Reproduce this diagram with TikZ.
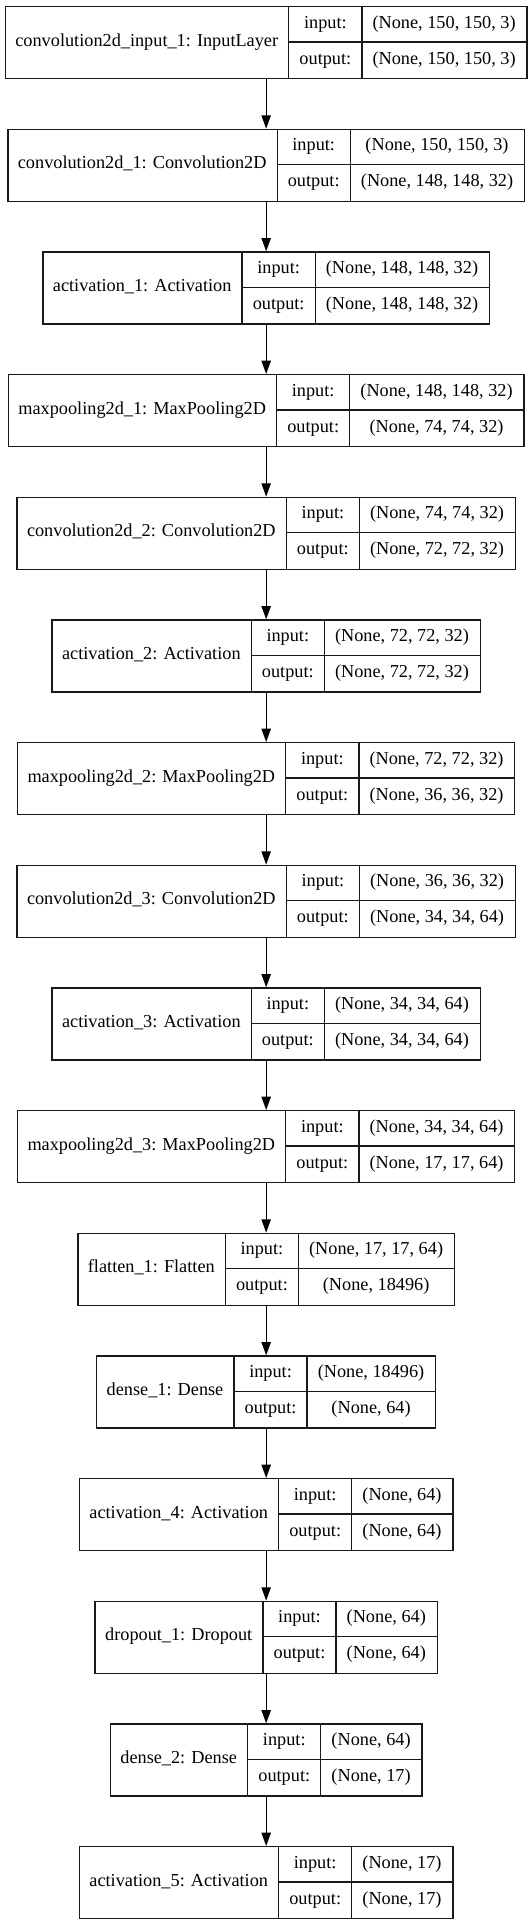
\documentclass[tikz,border=0pt]{standalone}
\usepackage{fontspec}
\setmainfont{Liberation Serif}
\usetikzlibrary{arrows.meta}
\newcommand\lf{\fontsize{13.7pt}{16pt}\selectfont}
\newlength\kwa
\newlength\kwb
\newlength\kwc
\newlength\kwd
\newcommand\kmeasure[2]{%
  \setbox0=\hbox{\pgfinterruptpicture\lf #2\endpgfinterruptpicture}%
  #1=\wd0\relax}
% #1 name, #2 index from 0, #3 label, #4 input shape, #5 output shape
\newcommand\klayer[5]{%
  \kmeasure{\kwa}{#3}%
  \kmeasure{\kwb}{output:}%
  \kmeasure{\kwc}{#4}%
  \kmeasure{\kwd}{#5}%
  \ifdim\kwd>\kwc \kwc=\kwd\fi
  \pgfmathsetmacro\kwl{\kwa+16}%
  \pgfmathsetmacro\kwm{\kwb+16}%
  \pgfmathsetmacro\kwr{\kwc+16}%
  \pgfmathsetmacro\ktot{\kwl+\kwm+\kwr}%
  \pgfmathsetmacro\kxl{199.125-\ktot/2}%
  \pgfmathsetmacro\kyt{-4.5-#2*92}%
  \pgfmathsetmacro\kxa{\kxl+\kwl}%
  \pgfmathsetmacro\kxb{\kxl+\kwl+\kwm}%
  \pgfmathsetmacro\kxe{\kxl+\ktot}%
  \pgfmathsetmacro\kym{\kyt-27}%
  \pgfmathsetmacro\kyb{\kyt-54}%
  \node[box, minimum width=\ktot pt, anchor=north west] (#1) at (\kxl pt,\kyt pt) {};
  \draw[sep] (\kxa pt,\kyt pt) -- (\kxa pt,\kyb pt);
  \draw[sep] (\kxb pt,\kyt pt) -- (\kxb pt,\kyb pt);
  \draw[sep] (\kxa pt,\kym pt) -- (\kxe pt,\kym pt);
  \node[txt] (#1-label) at (\kxl pt+\kwl pt/2,\kym pt) {#3};
  \node[txt] (#1-inkey) at (\kxa pt+\kwm pt/2,\kyt pt-13.5pt) {input:};
  \node[txt] (#1-outkey) at (\kxa pt+\kwm pt/2,\kyt pt-40.5pt) {output:};
  \node[txt] (#1-in) at (\kxb pt+\kwr pt/2,\kyt pt-13.5pt) {#4};
  \node[txt] (#1-out) at (\kxb pt+\kwr pt/2,\kyt pt-40.5pt) {#5};
}
\begin{document}
\begin{tikzpicture}[
  box/.style={draw=black!90, line width=1pt, minimum height=54pt, inner sep=0pt, rectangle},
  sep/.style={draw=black!90, line width=1pt},
  txt/.style={inner sep=0pt, font=\lf, text height=9.3pt, text depth=3pt},
  arr/.style={draw=black, line width=1pt, -{Triangle[length=10pt,width=7pt]}}
]
\useasboundingbox (0pt,0pt) rectangle (398.25pt,-1443.75pt);
\klayer{L1}{0}{convolution2d\_input\_1: InputLayer}{(None, 150, 150, 3)}{(None, 150, 150, 3)}
\klayer{L2}{1}{convolution2d\_1: Convolution2D}{(None, 150, 150, 3)}{(None, 148, 148, 32)}
\klayer{L3}{2}{activation\_1: Activation}{(None, 148, 148, 32)}{(None, 148, 148, 32)}
\klayer{L4}{3}{maxpooling2d\_1: MaxPooling2D}{(None, 148, 148, 32)}{(None, 74, 74, 32)}
\klayer{L5}{4}{convolution2d\_2: Convolution2D}{(None, 74, 74, 32)}{(None, 72, 72, 32)}
\klayer{L6}{5}{activation\_2: Activation}{(None, 72, 72, 32)}{(None, 72, 72, 32)}
\klayer{L7}{6}{maxpooling2d\_2: MaxPooling2D}{(None, 72, 72, 32)}{(None, 36, 36, 32)}
\klayer{L8}{7}{convolution2d\_3: Convolution2D}{(None, 36, 36, 32)}{(None, 34, 34, 64)}
\klayer{L9}{8}{activation\_3: Activation}{(None, 34, 34, 64)}{(None, 34, 34, 64)}
\klayer{L10}{9}{maxpooling2d\_3: MaxPooling2D}{(None, 34, 34, 64)}{(None, 17, 17, 64)}
\klayer{L11}{10}{flatten\_1: Flatten}{(None, 17, 17, 64)}{(None, 18496)}
\klayer{L12}{11}{dense\_1: Dense}{(None, 18496)}{(None, 64)}
\klayer{L13}{12}{activation\_4: Activation}{(None, 64)}{(None, 64)}
\klayer{L14}{13}{dropout\_1: Dropout}{(None, 64)}{(None, 64)}
\klayer{L15}{14}{dense\_2: Dense}{(None, 64)}{(None, 17)}
\klayer{L16}{15}{activation\_5: Activation}{(None, 17)}{(None, 17)}
\foreach \a/\b in {L1/L2,L2/L3,L3/L4,L4/L5,L5/L6,L6/L7,L7/L8,L8/L9,L9/L10,L10/L11,L11/L12,L12/L13,L13/L14,L14/L15,L15/L16}
  \draw[arr] (\a.south) -- (\b.north);
\end{tikzpicture}
\end{document}
